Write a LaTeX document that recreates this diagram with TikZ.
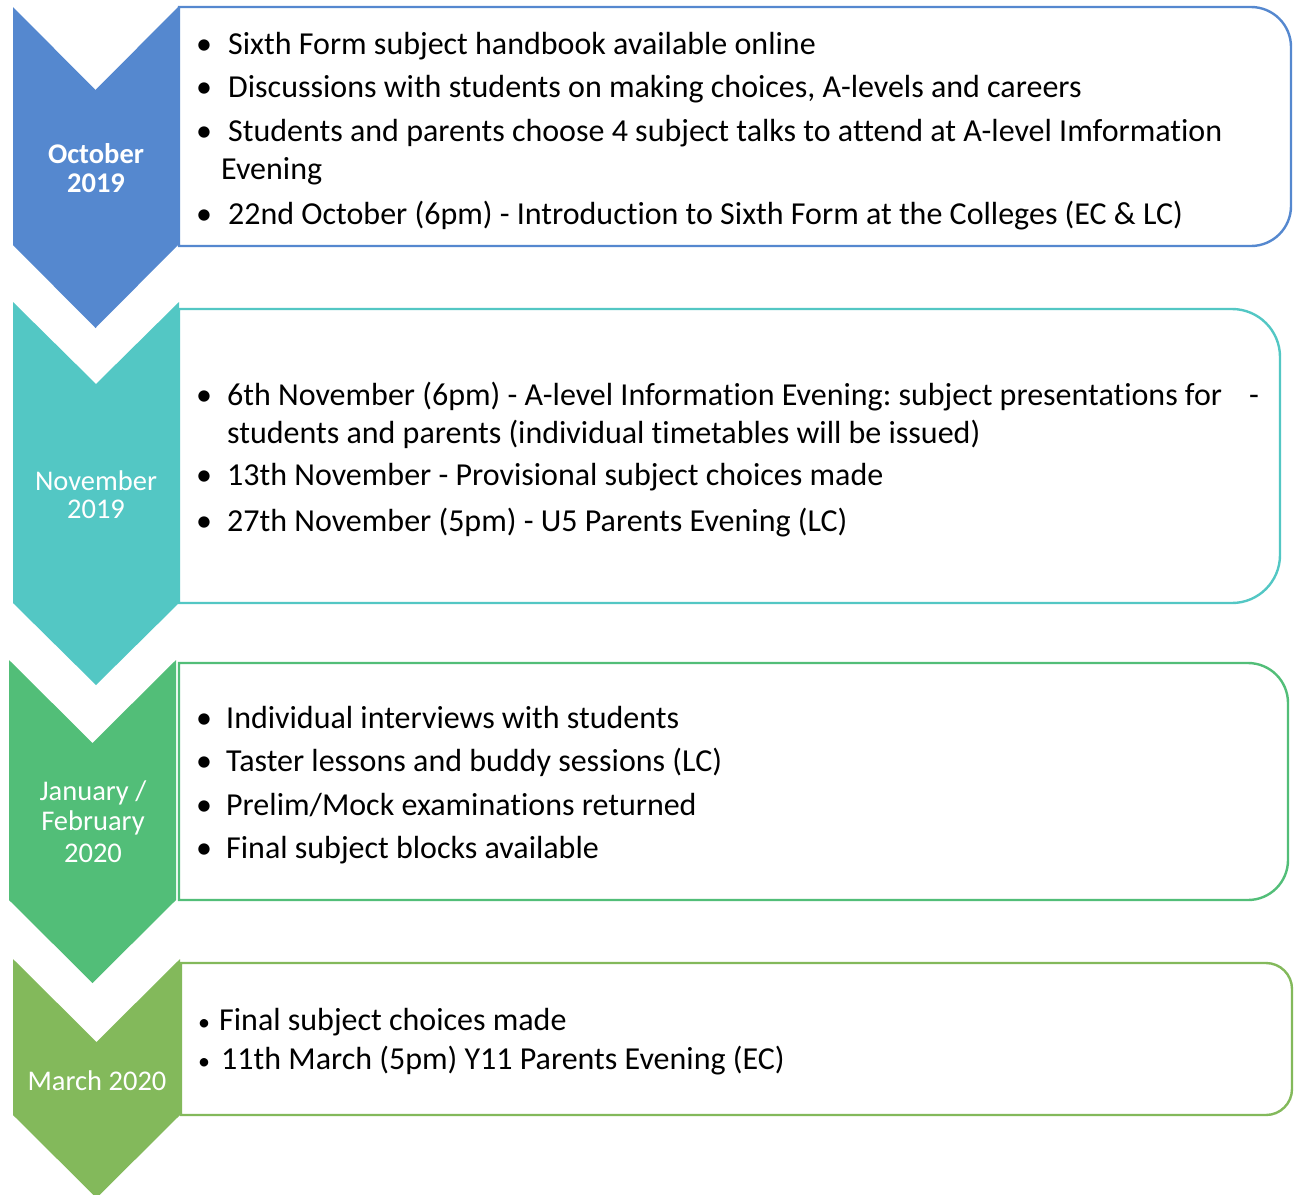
\documentclass[tikz,border=0pt]{standalone}
\usepackage{fontspec}
\setmainfont{Carlito}[Ligatures=NoCommon]
\frenchspacing
\definecolor{cblue}{HTML}{5588CF}
\definecolor{cteal}{HTML}{53C7C4}
\definecolor{cgreen}{HTML}{52BE78}
\definecolor{clime}{HTML}{83B95B}
% rounded-right box: #1 colour, #2 left, #3 top, #4 right, #5 bottom, #6 radius
\newcommand{\rrbox}[6]{%
  \draw[boxline, draw=#1] (#2,#3) -- ({#4-#6},#3)
    .. controls ({#4-#6+0.5523*#6},#3) and (#4,{#3+#6-0.5523*#6}) .. (#4,{#3+#6})
    -- (#4,{#5-#6})
    .. controls (#4,{#5-#6+0.5523*#6}) and ({#4-#6+0.5523*#6},#5) .. ({#4-#6},#5)
    -- (#2,#5) -- cycle;}
% chevron: #1 colour, #2 left, #3 right, #4 top, #5 notch depth, #6 bottom of sides
\newcommand{\chev}[6]{%
  \fill[#1] (#2,#4) -- ({(#2+#3)/2},{#4+#5}) -- (#3,#4) -- (#3,#6)
    -- ({(#2+#3)/2},{#6+#5}) -- (#2,#6) -- cycle;}
\begin{document}
\begin{tikzpicture}[x=1pt,y=-1pt,
  boxline/.style={line width=2.4pt, fill=white},
  body/.style={anchor=base west, inner sep=0pt, font=\fontsize{32}{38}\selectfont},
  bul/.style={anchor=base, inner sep=0pt, font=\fontsize{32}{38}\selectfont},
  sbul/.style={anchor=base, inner sep=0pt, font=\fontsize{24}{30}\selectfont},
  lab/.style={anchor=base, inner sep=0pt, text=white, font=\fontsize{28.5}{30}\selectfont}]
\useasboundingbox (0,0) rectangle (1298,1194);

% ---------- boxes ----------
\rrbox{cblue}{179}{7}{1291}{246}{40}
\rrbox{cteal}{179}{309}{1280}{603}{48}
\rrbox{cgreen}{179}{663}{1288}{900}{40}
\rrbox{clime}{181}{963}{1292}{1115}{26}

% ---------- chevrons ----------
\chev{cblue}{13}{178}{7}{83}{245}
\chev{cteal}{13}{179}{302}{82}{603}
\chev{cgreen}{9}{176}{660}{83}{900}
\chev{clime}{13}{180}{959}{83}{1115}

% ---------- labels ----------
\node[lab, font=\fontsize{28.5}{30}\selectfont\bfseries] (l1a) at (96,163) {October};
\node[lab, font=\fontsize{28.5}{30}\selectfont\bfseries] (l1b) at (96,192) {2019};
\node[lab] (l2a) at (96,490) {November};
\node[lab] (l2b) at (96,518) {2019};
\node[lab] (l3a) at (93,800) {January /};
\node[lab] (l3b) at (93,830) {February};
\node[lab] (l3c) at (93,862) {2020};
\node[lab] (l4a) at (97,1090) {March 2020};

% ---------- box 1 ----------
\node[bul] (b11) at (204,54) {•};
\node[body] (t11) at (228,54) {Sixth Form subject handbook available online};
\node[bul] (b12) at (204,97) {•};
\node[body] (t12) at (228,97) {Discussions with students on making choices, A-levels and careers};
\node[bul] (b13) at (204,141) {•};
\node[body] (t13) at (228,141) {Students and parents choose 4 subject talks to attend at A-level Imformation};
\node[body] (t13b) at (221,179) {Evening};
\node[bul] (b14) at (204,224) {•};
\node[body] (t14) at (228,224) {22nd October (6pm) - Introduction to Sixth Form at the Colleges (EC \& LC)};

% ---------- box 2 ----------
\node[bul] (b21) at (204,405) {•};
\node[body] (t21) at (227,405) {6th November (6pm) - A-level Information Evening: subject presentations for};
\node[body] (t21d) at (1249,405) {-};
\node[body] (t21b) at (227,443) {students and parents (individual timetables will be issued)};
\node[bul] (b22) at (204,485) {•};
\node[body] (t22) at (227,485) {13th November - Provisional subject choices made};
\node[bul] (b23) at (204,531) {•};
\node[body] (t23) at (227,531) {27th November (5pm) - U5 Parents Evening (LC)};

% ---------- box 3 ----------
\node[bul] (b31) at (204,728) {•};
\node[body] (t31) at (226,728) {Individual interviews with students};
\node[bul] (b32) at (204,771) {•};
\node[body] (t32) at (226,771) {Taster lessons and buddy sessions (LC)};
\node[bul] (b33) at (204,815) {•};
\node[body] (t33) at (226,815) {Prelim/Mock examinations returned};
\node[bul] (b34) at (204,858) {•};
\node[body] (t34) at (226,858) {Final subject blocks available};

% ---------- box 4 ----------
\node[sbul] (b41) at (204,1030) {•};
\node[body] (t41) at (219,1030) {Final subject choices made};
\node[sbul] (b42) at (204,1069) {•};
\node[body] (t42) at (221,1069) {11th March (5pm) Y11 Parents Evening (EC)};
\end{tikzpicture}
\end{document}
